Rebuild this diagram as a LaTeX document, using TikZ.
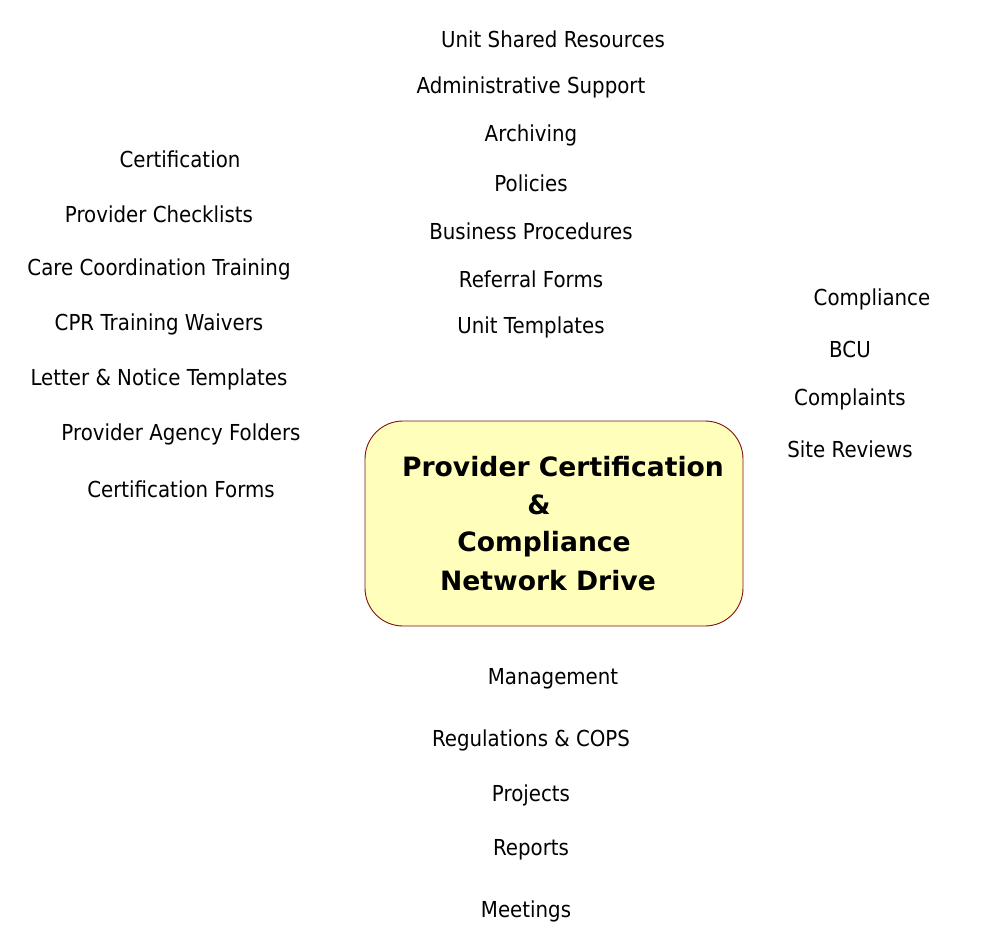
\documentclass[tikz,border=0pt]{standalone}
\usepackage{fontspec}
\setmainfont{DejaVu Sans}[FakeStretch=0.9]
\newfontfamily\titlefont{DejaVu Sans}
\definecolor{boxfill}{RGB}{255,255,187}
\definecolor{boxline}{RGB}{128,16,16}
\begin{document}
\begin{tikzpicture}[x=1pt,y=-1pt] % координаты в пикселях
\tikzstyle{folder} = [inner sep=0pt, font=\fontsize{22}{26}\selectfont] % подпись папки
\tikzstyle{drive} = [draw=boxline, fill=boxfill, rounded corners=38pt, minimum width=378pt, minimum height=205pt, line width=0.9pt] % центральный блок
\tikzstyle{title} = [inner sep=0pt, font=\titlefont\bfseries\fontsize{26.6}{30}\selectfont] % строка заголовка
\useasboundingbox (0,0) rectangle (981,949);
\node[drive] (drive) at (554,523.5) {};
\node[title] (t1) at (563,467) {Provider Certification};
\node[title] (t2) at (539,505) {\&};
\node[title] (t3) at (544,544) {Compliance};
\node[title] (t4) at (548,581) {Network Drive};
% left
\node[folder] (cert) at (180,159) {Certification};
\node[folder] (check) at (159,214) {Provider Checklists};
\node[folder] (care) at (159,269) {Care Coordination Training};
\node[folder] (cpr) at (159,324) {CPR Training Waivers};
\node[folder] (letter) at (159,379) {Letter \& Notice Templates};
\node[folder] (agency) at (181,434) {Provider Agency Folders};
\node[folder] (forms) at (181,489) {Certification Forms};
% top
\node[folder] (shared) at (553,39) {Unit Shared Resources};
\node[folder] (admin) at (531,87) {Administrative Support};
\node[folder] (arch) at (531,135) {Archiving};
\node[folder] (pol) at (531,183) {Policies};
\node[folder] (bus) at (531,231) {Business Procedures};
\node[folder] (ref) at (531,279) {Referral Forms};
\node[folder] (tmpl) at (531,327) {Unit Templates};
% right
\node[folder] (comp) at (872,299) {Compliance};
\node[folder] (bcu) at (850,349) {BCU};
\node[folder] (compl) at (850,399) {Complaints};
\node[folder] (site) at (850,449) {Site Reviews};
% bottom
\node[folder] (mgmt) at (553,679) {Management};
\node[folder] (regs) at (531,740) {Regulations \& COPS};
\node[folder] (proj) at (531,795) {Projects};
\node[folder] (rep) at (531,850) {Reports};
\node[folder] (meet) at (526,911) {Meetings};
\end{tikzpicture}
\end{document}
